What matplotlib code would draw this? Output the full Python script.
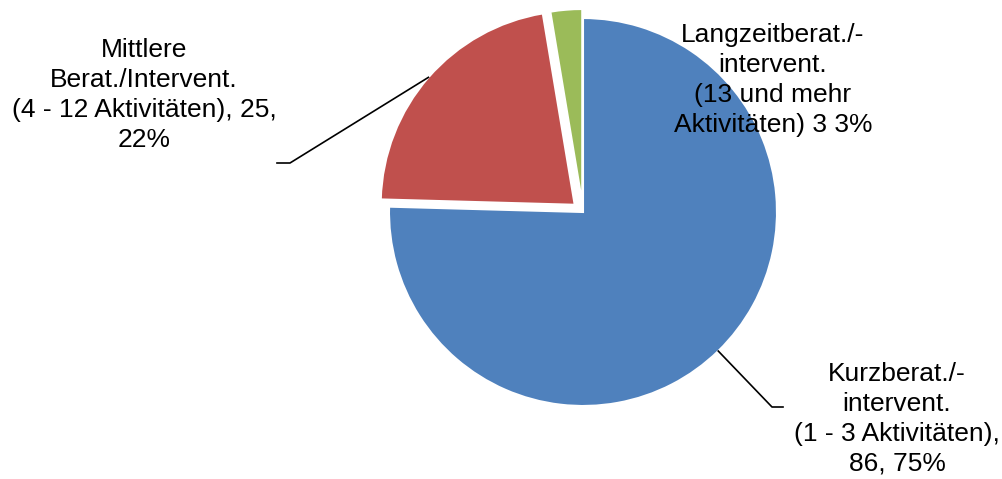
import numpy as np
import matplotlib.pyplot as plt

plt.rcParams['font.family'] = ['Liberation Sans', 'DejaVu Sans']

categories = ["Kurzberat./-\nintervent.\n(1 - 3 Aktivitäten)",
              "Mittlere\nBerat./Intervent.\n(4 - 12 Aktivitäten)",
              "Langzeitberat./-\nintervent.\n(13 und mehr\nAktivitäten)"]
values = [86, 25, 3]
percents = ["75%", "22%", "3%"]
label_texts = ["Kurzberat./-\nintervent.\n(1 - 3 Aktivitäten),\n86, 75%",
               "Mittlere\nBerat./Intervent.\n(4 - 12 Aktivitäten), 25,\n22%",
               "Langzeitberat./-\nintervent.\n(13 und mehr\nAktivitäten) 3 3%"]
colors = ["#4F81BD", "#C0504D", "#9BBB59"]

W, H = 1002, 479
fig = plt.figure(figsize=(W / 100, H / 100), dpi=100)
ax = fig.add_axes([0, 0, 1, 1])

cx, cy, r = 583, H - 212, 194
wedges, _ = ax.pie(values, colors=colors, startangle=90, counterclock=False,
                   radius=r, center=(cx, cy), explode=[0, 11, 9],
                   wedgeprops=dict(edgecolor="white", linewidth=1.5))
ax.set_xlim(0, W)
ax.set_ylim(0, H)
ax.set_aspect("equal")
ax.axis("off")

fs = 19
# label positions (pixel coords, top-left origin) and leader elbows
text_pos = [(897, 419), (144, 95), (773, 80)]
elbows = [[(772, 407), (783, 407)], [(290, 163), (277, 163)], None]

for w, txt, pos, elb in zip(wedges, label_texts, text_pos, elbows):
    ax.text(pos[0], H - pos[1], txt, ha="center", va="center",
            fontsize=fs, linespacing=1.3, color="black")
    if elb is not None:
        th = np.deg2rad((w.theta1 + w.theta2) / 2)
        x0 = w.center[0] + w.r * np.cos(th)
        y0 = w.center[1] + w.r * np.sin(th)
        xs = [x0] + [p[0] for p in elb]
        ys = [y0] + [H - p[1] for p in elb]
        ax.plot(xs, ys, color="black", lw=1.2)

fig.savefig("out.png", dpi=100)
